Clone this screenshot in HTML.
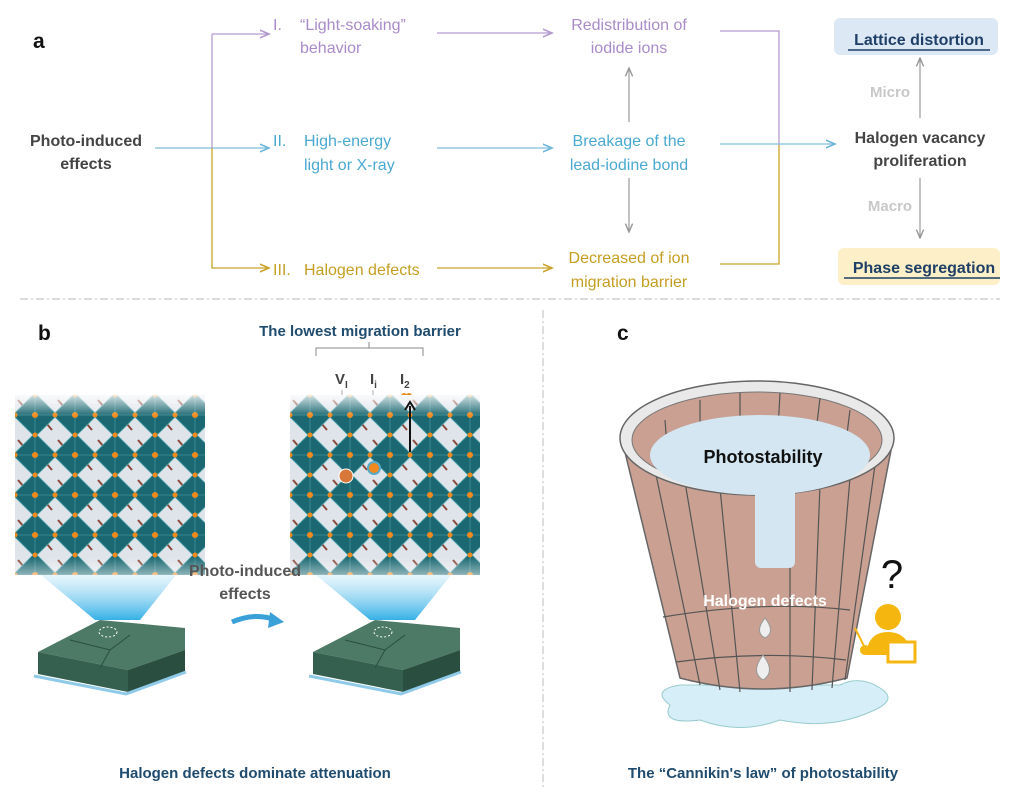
<!DOCTYPE html>
<html><head><meta charset="utf-8"><style>
body{margin:0;background:#fff;}
svg{display:block;font-family:"Liberation Sans",sans-serif;}
</style></head><body>
<svg width="1024" height="800" viewBox="0 0 1024 800" xmlns="http://www.w3.org/2000/svg">
<defs>
<marker id="ap" markerWidth="8" markerHeight="8" refX="7" refY="4" orient="auto"><path d="M0,1 L7,4 L0,7" fill="none" stroke="#b49ad0" stroke-width="1.2"/></marker>
<marker id="ab" markerWidth="8" markerHeight="8" refX="7" refY="4" orient="auto"><path d="M0,1 L7,4 L0,7" fill="none" stroke="#6fb6d8" stroke-width="1.2"/></marker>
<marker id="ag" markerWidth="8" markerHeight="8" refX="7" refY="4" orient="auto"><path d="M0,1 L7,4 L0,7" fill="none" stroke="#c9a32a" stroke-width="1.2"/></marker>
<marker id="ay" markerWidth="8" markerHeight="8" refX="7" refY="4" orient="auto"><path d="M0,1 L7,4 L0,7" fill="none" stroke="#999" stroke-width="1.2"/></marker>
<pattern id="oct" x="15" y="395" width="40" height="40" patternUnits="userSpaceOnUse">
<rect width="40" height="40" fill="#dfe4ea"/>
<path d="M3,5 L9,12 M31,28 L37,35" stroke="#8a4a3a" stroke-width="2"/>
<path d="M20,-2 L42,20 L20,42 L-2,20Z" fill="#1c6872" stroke="#4aa0a8" stroke-width="0.8"/>
<path d="M20,0 L20,40 M0,20 L40,20" stroke="#4aa0a8" stroke-width="0.6"/>
<circle cx="20" cy="20" r="3" fill="#f08a1c"/>
<circle cx="0" cy="20" r="2.5" fill="#f08a1c"/><circle cx="40" cy="20" r="2.5" fill="#f08a1c"/>
<circle cx="20" cy="0" r="2.5" fill="#f08a1c"/><circle cx="20" cy="40" r="2.5" fill="#f08a1c"/>
</pattern>
<pattern id="oct2" x="290" y="395" width="40" height="40" patternUnits="userSpaceOnUse">
<rect width="40" height="40" fill="#dfe4ea"/>
<path d="M3,5 L9,12 M31,28 L37,35" stroke="#8a4a3a" stroke-width="2"/>
<path d="M20,-2 L42,20 L20,42 L-2,20Z" fill="#1c6872" stroke="#4aa0a8" stroke-width="0.8"/>
<path d="M20,0 L20,40 M0,20 L40,20" stroke="#4aa0a8" stroke-width="0.6"/>
<circle cx="20" cy="20" r="3" fill="#f08a1c"/>
<circle cx="0" cy="20" r="2.5" fill="#f08a1c"/><circle cx="40" cy="20" r="2.5" fill="#f08a1c"/>
<circle cx="20" cy="0" r="2.5" fill="#f08a1c"/><circle cx="20" cy="40" r="2.5" fill="#f08a1c"/>
</pattern>
<linearGradient id="fade" x1="0" y1="0" x2="0" y2="1"><stop offset="0" stop-color="#fff" stop-opacity="0.8"/><stop offset="0.12" stop-color="#fff" stop-opacity="0"/><stop offset="0.9" stop-color="#fff" stop-opacity="0"/><stop offset="1" stop-color="#fff" stop-opacity="0.5"/></linearGradient>
<linearGradient id="cone" x1="0" y1="0" x2="0" y2="1"><stop offset="0" stop-color="#d8f0fb" stop-opacity="0.4"/><stop offset="1" stop-color="#35b0e6"/></linearGradient>
</defs>

<!-- panel a -->
<text x="33" y="48" font-size="21" font-weight="bold" fill="#111">a</text>
<text x="86" y="146" font-size="16" font-weight="bold" fill="#444" text-anchor="middle">Photo-induced</text>
<text x="86" y="169" font-size="16" font-weight="bold" fill="#444" text-anchor="middle">effects</text>

<line x1="155" y1="148" x2="269" y2="148" stroke="#7fbcdc" stroke-width="1.3" marker-end="url(#ab)"/>
<path d="M212,148 L212,34" fill="none" stroke="#b49ad0" stroke-width="1.3"/>
<line x1="212" y1="34" x2="269" y2="34" stroke="#b49ad0" stroke-width="1.3" marker-end="url(#ap)"/>
<path d="M212,148 L212,268 L269,268" fill="none" stroke="#c9a32a" stroke-width="1.3" marker-end="url(#ag)"/>

<g font-size="16">
<text x="273" y="30" fill="#a98bc9">I.</text><text x="300" y="30" fill="#a98bc9">“Light-soaking”</text>
<text x="300" y="53" fill="#a98bc9">behavior</text>
<text x="273" y="146" fill="#4aa9d1">II.</text><text x="304" y="146" fill="#4aa9d1">High-energy</text>
<text x="304" y="170" fill="#4aa9d1">light or X-ray</text>
<text x="273" y="275" fill="#c49e22">III.</text><text x="304" y="275" fill="#c49e22">Halogen defects</text>
</g>
<line x1="437" y1="33" x2="552" y2="33" stroke="#b49ad0" stroke-width="1.3" marker-end="url(#ap)"/>
<line x1="437" y1="148" x2="552" y2="148" stroke="#7fbcdc" stroke-width="1.3" marker-end="url(#ab)"/>
<line x1="437" y1="268" x2="552" y2="268" stroke="#c9a32a" stroke-width="1.3" marker-end="url(#ag)"/>

<g font-size="16" text-anchor="middle">
<text x="629" y="30" fill="#a98bc9">Redistribution of</text>
<text x="629" y="53" fill="#a98bc9">iodide ions</text>
<text x="629" y="146" fill="#4aa9d1">Breakage of the</text>
<text x="629" y="170" fill="#4aa9d1">lead-iodine bond</text>
<text x="629" y="263" fill="#c49e22">Decreased of ion</text>
<text x="629" y="287" fill="#c49e22">migration barrier</text>
</g>
<line x1="629" y1="122" x2="629" y2="68" stroke="#999" stroke-width="1.2" marker-end="url(#ay)"/>
<line x1="629" y1="178" x2="629" y2="232" stroke="#999" stroke-width="1.2" marker-end="url(#ay)"/>

<path d="M720,31 L779,31 L779,145" fill="none" stroke="#b49ad0" stroke-width="1.3"/>
<path d="M720,264 L779,264 L779,145" fill="none" stroke="#c9a32a" stroke-width="1.3"/>
<line x1="720" y1="144" x2="835" y2="144" stroke="#7fbcdc" stroke-width="1.3" marker-end="url(#ab)"/>

<rect x="834" y="18" width="164" height="37" rx="6" fill="#dce9f5"/>
<text x="919" y="45" font-size="16" font-weight="bold" fill="#1f3f66" text-anchor="middle">Lattice distortion</text>
<line x1="848" y1="50" x2="990" y2="50" stroke="#1f3f66" stroke-width="1.5"/>
<text x="890" y="97" font-size="15" font-weight="bold" fill="#c8c8c8" text-anchor="middle">Micro</text>
<line x1="920" y1="118" x2="920" y2="58" stroke="#999" stroke-width="1.2" marker-end="url(#ay)"/>
<text x="920" y="143" font-size="16" font-weight="bold" fill="#444" text-anchor="middle">Halogen vacancy</text>
<text x="920" y="166" font-size="16" font-weight="bold" fill="#444" text-anchor="middle">proliferation</text>
<text x="890" y="211" font-size="15" font-weight="bold" fill="#c8c8c8" text-anchor="middle">Macro</text>
<line x1="920" y1="178" x2="920" y2="238" stroke="#999" stroke-width="1.2" marker-end="url(#ay)"/>
<rect x="838" y="248" width="162" height="37" rx="6" fill="#fdefc8"/>
<text x="924" y="273" font-size="16" font-weight="bold" fill="#1f3f66" text-anchor="middle">Phase segregation</text>
<line x1="844" y1="278" x2="1000" y2="278" stroke="#1f3f66" stroke-width="1.5"/>

<line x1="20" y1="299" x2="1000" y2="299" stroke="#bbb" stroke-width="1" stroke-dasharray="8,3,2,3"/>
<line x1="543" y1="310" x2="543" y2="790" stroke="#bbb" stroke-width="1" stroke-dasharray="8,3,2,3"/>

<!-- panel b -->
<text x="38" y="340" font-size="21" font-weight="bold" fill="#111">b</text>
<text x="617" y="340" font-size="21" font-weight="bold" fill="#111">c</text>
<text x="360" y="336" font-size="15" font-weight="bold" fill="#1f4b6e" text-anchor="middle">The lowest migration barrier</text>
<path d="M316,356 L316,348 L423,348 L423,356 M369,348 L369,342" fill="none" stroke="#888" stroke-width="1"/>
<text x="335" y="384" font-size="15" font-weight="bold" fill="#444">V<tspan font-size="10" dy="4">I</tspan></text>
<text x="370" y="384" font-size="15" font-weight="bold" fill="#444">I<tspan font-size="10" dy="4">i</tspan></text>
<text x="400" y="384" font-size="15" font-weight="bold" fill="#444">I<tspan font-size="10" dy="4">2</tspan></text>
<line x1="342" y1="390" x2="342" y2="470" stroke="#999" stroke-width="0.8"/>
<line x1="373" y1="390" x2="373" y2="465" stroke="#999" stroke-width="0.8"/>
<circle cx="404" cy="396" r="3" fill="#e98a1c"/><circle cx="409" cy="396" r="3" fill="#e98a1c"/>

<!-- cones -->
<path d="M35,570 L95,620 L140,620 L180,570Z" fill="url(#cone)"/>
<path d="M310,570 L370,620 L415,620 L455,570Z" fill="url(#cone)"/>
<!-- crystals -->
<rect x="15" y="395" width="190" height="180" fill="url(#oct)"/>
<rect x="15" y="395" width="190" height="180" fill="url(#fade)"/>
<rect x="290" y="395" width="190" height="180" fill="url(#oct2)"/>
<rect x="290" y="395" width="190" height="180" fill="url(#fade)"/>
<circle cx="346" cy="476" r="7" fill="#d7783a" stroke="#fff"/>
<circle cx="374" cy="468" r="6" fill="#f08a20" stroke="#5ac" stroke-width="2"/>
<line x1="410" y1="452" x2="410" y2="406" stroke="#111" stroke-width="2"/>
<path d="M405,410 L410,402 L415,410" fill="none" stroke="#111" stroke-width="2"/>

<!-- chips -->
<g>
<path d="M38,652 L100,620 L185,628 L185,650 L128,670Z" fill="#4c7a66"/>
<path d="M38,652 L128,670 L128,692 L38,674Z" fill="#35604f"/>
<path d="M128,670 L185,650 L185,672 L128,692Z" fill="#2a4e40"/>
<path d="M34,676 L126,694 L186,672" fill="none" stroke="#8fcbe8" stroke-width="3"/>
<path d="M70,640 L110,650 L130,635 M110,650 L100,668" stroke="#2a4e40" fill="none"/>
<ellipse cx="108" cy="632" rx="9" ry="5" fill="none" stroke="#fff" stroke-dasharray="2,2"/>
<path d="M313,652 L375,620 L460,628 L460,650 L403,670Z" fill="#4c7a66"/>
<path d="M313,652 L403,670 L403,692 L313,674Z" fill="#35604f"/>
<path d="M403,670 L460,650 L460,672 L403,692Z" fill="#2a4e40"/>
<path d="M309,676 L401,694 L461,672" fill="none" stroke="#8fcbe8" stroke-width="3"/>
<path d="M345,640 L385,650 L405,635 M385,650 L375,668" stroke="#2a4e40" fill="none"/>
<ellipse cx="383" cy="632" rx="9" ry="5" fill="none" stroke="#fff" stroke-dasharray="2,2"/>
</g>
<text x="245" y="576" font-size="16" font-weight="bold" fill="#555" text-anchor="middle">Photo-induced</text>
<text x="245" y="599" font-size="16" font-weight="bold" fill="#555" text-anchor="middle">effects</text>
<path d="M232,622 Q255,612 276,620" fill="none" stroke="#3aa0d8" stroke-width="5"/>
<path d="M270,612 L284,622 L268,628Z" fill="#3aa0d8"/>
<text x="255" y="778" font-size="15" font-weight="bold" fill="#1f4b6e" text-anchor="middle">Halogen defects dominate attenuation</text>

<!-- panel c bucket -->
<path d="M680,685 Q650,690 670,705 Q660,725 700,720 Q740,735 780,720 Q830,730 870,712 Q900,700 880,688 Q860,675 840,685Z" fill="#d6eef8" stroke="#9cc" stroke-width="1"/>
<path d="M622,440 L680,678 Q763,700 847,678 L893,440Z" fill="#c9a092" stroke="#666" stroke-width="1.5"/>
<g stroke="#555" stroke-width="1.2" fill="none">
<path d="M663,617 Q765,600 850,610"/><path d="M676,662 Q765,650 846,660"/>
<path d="M655,470 L700,685 M685,482 L720,690 M720,488 L740,692 M790,488 L790,692 M820,485 L812,690 M850,478 L832,688 M875,465 L845,680"/>
</g>
<ellipse cx="757" cy="438" rx="137" ry="57" fill="#e9e9e9" stroke="#666" stroke-width="1.5"/>
<ellipse cx="757" cy="440" rx="125" ry="48" fill="#c9a092" stroke="#777"/>
<g stroke="#555" stroke-width="1.2"><path d="M665,420 L668,460 M700,400 L700,440 M740,393 L740,430 M780,393 L778,430 M820,398 L815,440 M850,410 L845,450"/></g>
<ellipse cx="760" cy="455" rx="110" ry="40" fill="#d3e6f2"/>
<rect x="755" y="480" width="40" height="88" rx="6" fill="#d3e6f2"/>
<text x="763" y="463" font-size="18" font-weight="bold" fill="#111" text-anchor="middle">Photostability</text>
<text x="765" y="606" font-size="16" font-weight="bold" fill="#fff" text-anchor="middle">Halogen defects</text>
<path d="M765,618 Q754,632 765,638 Q776,632 765,618Z" fill="#eee" stroke="#999"/>
<path d="M763,655 Q750,672 763,680 Q776,672 763,655Z" fill="#eee" stroke="#999"/>
<text x="892" y="588" font-size="40" fill="#111" text-anchor="middle">?</text>
<circle cx="888" cy="617" r="13" fill="#f5b70f"/>
<path d="M866,655 Q868,632 888,632 Q908,632 912,655Z" fill="#f5b70f"/>
<rect x="888" y="642" width="27" height="20" fill="#fff" stroke="#f5b70f" stroke-width="3"/>
<line x1="855" y1="628" x2="866" y2="650" stroke="#f5b70f" stroke-width="2"/>
<circle cx="865" cy="650" r="5" fill="#f5b70f"/>
<text x="763" y="778" font-size="15" font-weight="bold" fill="#1f4b6e" text-anchor="middle">The “Cannikin's law” of photostability</text>
</svg>
</body></html>
